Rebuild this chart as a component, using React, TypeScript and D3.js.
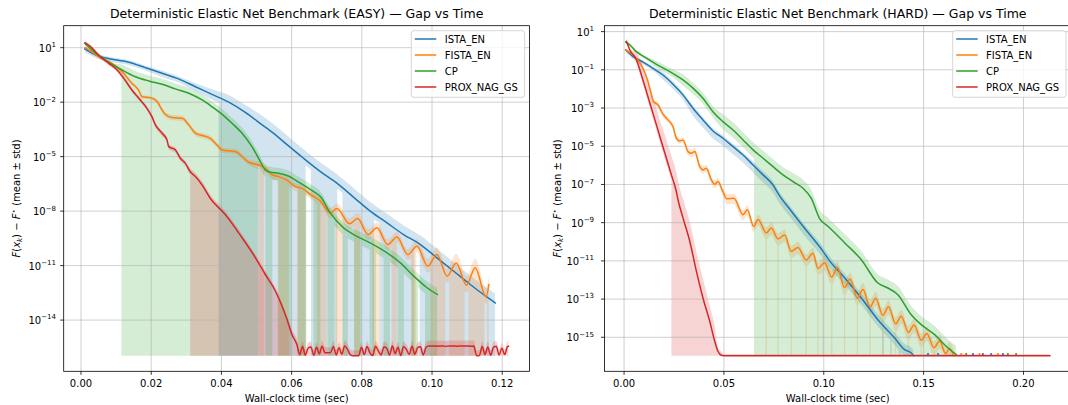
import React from "react";
import * as d3 from "d3";

const FONT = "'DejaVu Sans', Verdana, sans-serif";
const FLOOR_EXP = -15.96; // log10 of the floor value the bands are clipped to

const seriesNames = ["ISTA_EN", "FISTA_EN", "CP", "PROX_NAG_GS"];
const seriesColors = ["#1f77b4", "#ff7f0e", "#2ca02c", "#d62728"];

// ---------------- EASY (left) ----------------  values are log10(gap)
const easyIstaT = [0.00105, 0.0041, 0.0088, 0.0136, 0.0183, 0.0231, 0.0278, 0.0326, 0.0373, 0.0421, 0.0468, 0.0516, 0.0554, 0.0587, 0.0634, 0.0682, 0.0729, 0.0777, 0.0824, 0.0872, 0.0919, 0.0967, 0.1014, 0.1062, 0.1109, 0.1157, 0.118];
const easyIstaExp = [0.93, 0.6, 0.36, 0.2, -0.1, -0.41, -0.72, -1.15, -1.57, -2.0, -2.56, -3.25, -3.8, -4.34, -5.09, -5.82, -6.46, -7.24, -8.0, -8.65, -9.29, -9.84, -10.57, -11.31, -12.04, -12.74, -13.05];
const easyIstaBand = [[0, 0.12, 0.15], [0.02, 0.15, 0.2], [0.03, 0.2, 0.25], [0.036, 0.3, 0.3], [0.042, 0.4, 0.3], [0.048, 0.5, 0.3]];
const easyIstaFloor = [[0.0392, 0.064], [0.0655, 0.073], [0.0745, 0.0835], [0.085, 0.095], [0.0965, 0.118]];

const easyFistaT = [0.0012, 0.003, 0.005, 0.0088, 0.0117, 0.0145, 0.0164, 0.0174, 0.0197, 0.0217, 0.0231, 0.024, 0.0259, 0.0288, 0.0307, 0.0326, 0.0345, 0.0368, 0.0387, 0.0402, 0.0425, 0.044, 0.0464, 0.0478, 0.0506, 0.0525, 0.0544, 0.0563, 0.0587, 0.061, 0.063, 0.0655, 0.0682, 0.071, 0.0729, 0.0765, 0.0788, 0.0818, 0.0843, 0.0874, 0.09, 0.0931, 0.0957, 0.0988, 0.1014, 0.1043, 0.1069, 0.1098, 0.1123, 0.1154, 0.1162];
const easyFistaExp = [1.0, 0.78, 0.5, 0.14, -0.32, -0.96, -1.33, -1.7, -1.75, -1.97, -2.43, -2.67, -2.85, -2.89, -3.25, -3.71, -3.84, -3.99, -4.35, -4.63, -4.69, -4.72, -5.09, -5.31, -5.46, -5.64, -6.0, -6.1, -6.3, -6.65, -6.75, -7.1, -7.45, -8.1, -7.86, -8.7, -8.41, -9.29, -8.92, -9.84, -9.43, -10.39, -9.93, -11.03, -10.39, -11.58, -10.85, -12.08, -11.12, -12.72, -12.04];
const easyFistaBand = [[0, 0.1, 0.1], [0.02, 0.15, 0.15], [0.05, 0.2, 0.25], [0.07, 0.3, 0.3], [0.095, 0.4, 0.35], [0.105, 0.5, 0.4]];
const easyFistaFloor = [[0.0506, 0.0521], [0.056, 0.0592], [0.0615, 0.064], [0.0672, 0.07], [0.0725, 0.0745], [0.0778, 0.0795], [0.083, 0.085], [0.0885, 0.09], [0.094, 0.0955], [0.0995, 0.1038], [0.1049, 0.1093], [0.1104, 0.1149], [0.1157, 0.1162]];

const easyCpT = [0.00105, 0.0031, 0.006, 0.0088, 0.0117, 0.0155, 0.0193, 0.0231, 0.0269, 0.0307, 0.0345, 0.0373, 0.0402, 0.043, 0.0459, 0.0487, 0.0506, 0.0525, 0.0539, 0.0563, 0.0587, 0.0625, 0.0663, 0.0682, 0.071, 0.0748, 0.0777, 0.0824, 0.0872, 0.091, 0.0948, 0.0986, 0.1015];
const easyCpExp = [1.24, 0.87, 0.42, 0.09, -0.23, -0.6, -0.83, -1.01, -1.27, -1.51, -1.88, -2.25, -2.67, -3.16, -3.71, -4.45, -5.09, -5.73, -5.86, -5.91, -6.04, -6.46, -6.93, -7.2, -8.1, -8.92, -9.29, -9.75, -10.3, -10.85, -11.58, -12.22, -12.59];
const easyCpBand = [[0, 0.1, 0.1], [0.011, 0.3, 0.3], [0.05, 0.3, 0.4], [0.08, 0.35, 0.4]];
const easyCpFloor = [[0.0115, 0.0505], [0.0525, 0.0545], [0.0562, 0.06], [0.0618, 0.0642], [0.0662, 0.0682], [0.0702, 0.0722], [0.0745, 0.076], [0.0778, 0.08], [0.0822, 0.084], [0.0862, 0.088], [0.0902, 0.092], [0.0942, 0.096], [0.098, 0.1015]];

const easyProxT = [0.0012, 0.0027, 0.005, 0.0079, 0.0103, 0.0122, 0.0145, 0.0169, 0.0188, 0.0202, 0.0212, 0.0231, 0.0245, 0.025, 0.0269, 0.0283, 0.0297, 0.0311, 0.0326, 0.0345, 0.0368, 0.0411, 0.0459, 0.0497, 0.0525, 0.0554, 0.0587, 0.0601, 0.0615];
const easyProxExp = [1.27, 1.06, 0.6, 0.14, -0.23, -0.69, -1.33, -1.88, -2.34, -2.8, -3.25, -3.71, -4.08, -4.45, -4.63, -5.09, -5.36, -5.82, -6.1, -6.56, -7.29, -8.19, -9.47, -10.57, -11.49, -12.41, -13.97, -14.8, -15.35];
const easyProxTailT = [0.0623, 0.0631, 0.0639, 0.0647, 0.0655, 0.0663, 0.0671, 0.0679, 0.0687, 0.0695, 0.0703, 0.0711, 0.0719, 0.0727, 0.0735, 0.0743, 0.0751, 0.0759, 0.0767, 0.0775, 0.0783, 0.0791, 0.0799, 0.0807, 0.0815, 0.0823, 0.0831, 0.0839, 0.0847, 0.0855, 0.0863, 0.0871, 0.0879, 0.0887, 0.0895, 0.0903, 0.0911, 0.0919, 0.0927, 0.0935, 0.0943, 0.0951, 0.0959, 0.0967, 0.0975, 0.0983, 0.0991, 0.0999, 0.1007, 0.1015, 0.1023, 0.1031, 0.1039, 0.1047, 0.1055, 0.1063, 0.1071, 0.1079, 0.1087, 0.1095, 0.1103, 0.1111, 0.1119, 0.1127, 0.1135, 0.1143, 0.1151, 0.1159, 0.1167, 0.1175, 0.1183, 0.1191, 0.1199, 0.1207, 0.1215, 0.1218];
const easyProxTailExp = [-15.9, -15.45, -15.93, -15.55, -15.48, -15.94, -15.5, -15.85, -15.44, -15.8, -15.8, -15.78, -15.45, -15.92, -15.52, -15.88, -15.42, -15.6, -15.9, -15.96, -15.96, -15.96, -15.5, -15.9, -15.46, -15.8, -15.95, -15.44, -15.7, -15.92, -15.48, -15.55, -15.93, -15.43, -15.85, -15.5, -15.95, -15.46, -15.62, -15.9, -15.44, -15.88, -15.52, -15.47, -15.92, -15.5, -15.42, -15.43, -15.42, -15.44, -15.42, -15.42, -15.45, -15.42, -15.43, -15.42, -15.44, -15.42, -15.43, -15.42, -15.42, -15.44, -15.43, -15.96, -15.95, -15.45, -15.9, -15.48, -15.94, -15.5, -15.44, -15.92, -15.55, -15.9, -15.46, -15.44];
const easyProxBand = [[0, 0.12, 0.12], [0.02, 0.15, 0.15], [0.03, 0.2, 0.2], [0.06, 0.3, 0.2]];
const easyProxFloor = [[0.0311, 0.1218]];

// ---------------- HARD (right) ----------------
const hardIstaT = [0.00085, 0.0045, 0.0095, 0.0145, 0.0195, 0.0245, 0.0295, 0.0345, 0.0395, 0.0445, 0.0495, 0.0546, 0.0596, 0.0646, 0.0696, 0.0746, 0.0779, 0.0838, 0.0896, 0.0996, 0.1021, 0.1105, 0.1188, 0.1271, 0.1355, 0.1405, 0.1438, 0.145];
const hardIstaExp = [0.04, -0.31, -0.6, -0.92, -1.27, -1.75, -2.31, -3.01, -3.62, -4.2, -4.58, -5.02, -5.46, -5.98, -6.5, -7.03, -7.6, -8.4, -9.19, -10.5, -10.88, -11.9, -12.94, -14.08, -15.04, -15.65, -15.82, -15.96];
const hardIstaBand = [[0, 0.1, 0.12], [0.015, 0.15, 0.25], [0.03, 0.15, 0.4], [0.06, 0.2, 0.4], [0.09, 0.25, 0.35], [0.12, 0.3, 0.35]];
const hardIstaFloor = [[0.1293, 0.13], [0.1333, 0.134], [0.1375, 0.1383], [0.1408, 0.145]];
const hardIstaDotsT = [0.1522, 0.1572, 0.1747, 0.1797, 0.1838, 0.1897];

const hardFistaT = [0.00085, 0.0062, 0.0095, 0.012, 0.0137, 0.0145, 0.017, 0.0195, 0.022, 0.0245, 0.0262, 0.0279, 0.0295, 0.032, 0.0337, 0.0354, 0.0379, 0.0395, 0.0412, 0.0437, 0.0454, 0.047, 0.0495, 0.0515, 0.055, 0.0596, 0.0617, 0.0649, 0.0671, 0.0712, 0.0737, 0.0771, 0.0804, 0.0837, 0.0871, 0.0912, 0.0946, 0.0971, 0.1004, 0.104, 0.1068, 0.1104, 0.1132, 0.1168, 0.1196, 0.1232, 0.126, 0.1296, 0.1324, 0.136, 0.1388, 0.1424, 0.1452, 0.1488, 0.1516, 0.1552, 0.158, 0.161, 0.163, 0.165];
const hardFistaExp = [0.04, -0.39, -0.92, -1.62, -2.31, -2.63, -2.84, -3.32, -3.62, -3.97, -4.58, -4.72, -4.67, -5.28, -5.37, -5.28, -6.07, -6.24, -6.15, -6.76, -6.99, -6.85, -7.38, -7.75, -7.72, -8.58, -8.32, -9.2, -8.84, -9.54, -9.28, -9.85, -9.65, -10.5, -10.3, -10.95, -10.6, -11.4, -11.1, -11.85, -11.35, -12.4, -11.95, -12.95, -12.5, -13.4, -12.95, -13.85, -13.4, -14.3, -13.9, -14.75, -14.35, -15.15, -14.8, -15.55, -15.2, -15.85, -15.6, -15.96];
const hardFistaBand = [[0, 0.08, 0.08], [0.015, 0.15, 0.15], [0.03, 0.2, 0.2], [0.05, 0.25, 0.3], [0.07, 0.3, 0.35], [0.1, 0.35, 0.4]];
const hardFistaFloor = [[0.0709, 0.0715], [0.0768, 0.0774], [0.0834, 0.084], [0.0909, 0.0915], [0.0968, 0.0974], [0.0993, 0.0999], [0.1037, 0.1043], [0.1101, 0.1107], [0.1165, 0.1171], [0.1229, 0.1235], [0.1293, 0.1299], [0.1357, 0.1363], [0.1421, 0.1427], [0.1485, 0.1491], [0.1549, 0.1555], [0.1607, 0.165]];
const hardFistaDotsT = [0.1688, 0.178, 0.1872];

const hardCpT = [0.00085, 0.0029, 0.0062, 0.0112, 0.0162, 0.0229, 0.0295, 0.0345, 0.0395, 0.0445, 0.0495, 0.0546, 0.0596, 0.0646, 0.0696, 0.0746, 0.0796, 0.0846, 0.0896, 0.0937, 0.098, 0.1021, 0.1105, 0.1188, 0.1271, 0.1321, 0.1371, 0.1438, 0.1488, 0.1555, 0.1605, 0.1663];
const hardCpExp = [0.45, 0.3, -0.05, -0.39, -0.71, -1.09, -1.53, -1.96, -2.49, -3.19, -3.71, -4.15, -4.67, -5.19, -5.63, -6.07, -6.5, -6.85, -7.2, -7.72, -8.8, -9.19, -10.06, -10.94, -12.16, -12.42, -12.77, -13.82, -14.34, -14.86, -15.39, -15.91];
const hardCpBand = [[0, 0.1, 0.1], [0.015, 0.2, 0.2], [0.025, 0.3, 0.3], [0.045, 0.4, 0.4], [0.08, 0.45, 0.45]];
const hardCpFloor = [[0.0651, 0.1663]];
const hardCpDotsT = [0.1713, 0.1922, 0.1963];

const hardProxT = [0.0012, 0.0029, 0.0062, 0.0087, 0.0112, 0.0137, 0.0162, 0.0187, 0.0212, 0.0237, 0.0262, 0.027, 0.0295, 0.0329, 0.0362, 0.0395, 0.0429, 0.0454, 0.047, 0.0487, 0.05, 0.2132];
const hardProxExp = [0.48, 0.04, -0.48, -1.27, -2.14, -3.01, -3.88, -4.76, -5.63, -6.5, -7.38, -7.8, -8.75, -9.97, -11.54, -12.94, -14.16, -15.21, -15.73, -15.94, -15.96, -15.96];
const hardProxBand = [[0, 0.08, 0.08], [0.004, 0.4, 0.15], [0.008, 0.7, 0.25], [0.012, 0.9, 0.3], [0.02, 1.0, 0.3], [0.04, 0.8, 0.3], [0.047, 0.2, 0.1], [0.05, 0.08, 0.05]];
const hardProxFloor = [[0.0237, 0.05]];

// ticks
const easyXTicks = [0, 0.02, 0.04, 0.06, 0.08, 0.1, 0.12];
const hardXTicks = [0, 0.05, 0.1, 0.15, 0.2];
const easyYTickExps = [1, -2, -5, -8, -11, -14];
const hardYTickExps = [1, -1, -3, -5, -7, -9, -11, -13, -15];

type Series = { name: string; color: string; t: number[]; exp: number[]; band: number[][]; floor: number[][]; dots?: number[] };

const easySeries: Series[] = [
  { name: seriesNames[0], color: seriesColors[0], t: easyIstaT, exp: easyIstaExp, band: easyIstaBand, floor: easyIstaFloor },
  { name: seriesNames[1], color: seriesColors[1], t: easyFistaT, exp: easyFistaExp, band: easyFistaBand, floor: easyFistaFloor },
  { name: seriesNames[2], color: seriesColors[2], t: easyCpT, exp: easyCpExp, band: easyCpBand, floor: easyCpFloor },
  { name: seriesNames[3], color: seriesColors[3], t: easyProxT.concat(easyProxTailT), exp: easyProxExp.concat(easyProxTailExp), band: easyProxBand, floor: easyProxFloor },
];
const hardSeries: Series[] = [
  { name: seriesNames[0], color: seriesColors[0], t: hardIstaT, exp: hardIstaExp, band: hardIstaBand, floor: hardIstaFloor, dots: hardIstaDotsT },
  { name: seriesNames[1], color: seriesColors[1], t: hardFistaT, exp: hardFistaExp, band: hardFistaBand, floor: hardFistaFloor, dots: hardFistaDotsT },
  { name: seriesNames[2], color: seriesColors[2], t: hardCpT, exp: hardCpExp, band: hardCpBand, floor: hardCpFloor, dots: hardCpDotsT },
  { name: seriesNames[3], color: seriesColors[3], t: hardProxT, exp: hardProxExp, band: hardProxBand, floor: hardProxFloor },
];

type Cfg = {
  id: string; title: string; left: number; right: number; top: number; bottom: number;
  xDomain: number[]; expDomain: number[]; xTicks: number[]; yTickExps: number[];
  yLabelX: number; yTickEnd: number;
};

const easyCfg: Cfg = {
  id: "easy", title: "Deterministic Elastic Net Benchmark (EASY) \u2014 Gap vs Time",
  left: 63.7, right: 529.6, top: 25.7, bottom: 371.3,
  xDomain: [-0.00493, 0.1278], expDomain: [-16.82, 2.21],
  xTicks: easyXTicks, yTickExps: easyYTickExps, yLabelX: 16, yTickEnd: 56,
};
const hardCfg: Cfg = {
  id: "hard", title: "Deterministic Elastic Net Benchmark (HARD) \u2014 Gap vs Time",
  left: 604.5, right: 1071, top: 25.7, bottom: 371.3,
  xDomain: [-0.0098, 0.2238], expDomain: [-16.78, 1.31],
  xTicks: hardXTicks, yTickExps: hardYTickExps, yLabelX: 557.5, yTickEnd: 594,
};

function bandAt(band: number[][], t: number) {
  let b = band[0];
  for (const s of band) if (t >= s[0]) b = s;
  return b;
}

function expLabel(e: number) {
  return e < 0 ? "\u2212" + Math.abs(e) : String(e);
}

function Panel({ cfg, series }: { cfg: Cfg; series: Series[] }) {
  const x = d3.scaleLinear().domain(cfg.xDomain).range([cfg.left, cfg.right]);
  const y = d3.scaleLog().domain([Math.pow(10, cfg.expDomain[0]), Math.pow(10, cfg.expDomain[1])]).range([cfg.bottom, cfg.top]);
  const floorV = Math.pow(10, FLOOR_EXP);
  const yFloor = y(floorV);

  const built = series.map((s) => {
    const pts = s.t.map((t, i) => {
      const b = bandAt(s.band, t);
      const e = s.exp[i];
      return { t, v: Math.pow(10, e), up: Math.pow(10, e + b[1]), dn: Math.max(Math.pow(10, e - b[2]), floorV) };
    });
    const line = d3.line<any>().x((d) => x(d.t)).y((d) => y(d.v)).curve(d3.curveMonotoneX)(pts) || "";
    const full = d3.area<any>().x((d) => x(d.t)).y0(yFloor).y1((d) => y(d.up)).curve(d3.curveMonotoneX)(pts) || "";
    const narrow = d3.area<any>().x((d) => x(d.t)).y0((d) => y(d.dn)).y1((d) => y(d.up)).curve(d3.curveMonotoneX)(pts) || "";
    return { s, line, full, narrow };
  });

  const axClip = `ax-${cfg.id}`;
  const cx = (cfg.left + cfg.right) / 2;
  const cy = (cfg.top + cfg.bottom) / 2;
  const legX = cfg.right - 5 - 113.3;
  const legY = cfg.top + 5;

  return (
    <g>
      <defs>
        <clipPath id={axClip}>
          <rect x={cfg.left} y={cfg.top} width={cfg.right - cfg.left} height={cfg.bottom - cfg.top} />
        </clipPath>
        {built.map((b, i) => (
          <clipPath id={`band-${cfg.id}-${i}`} key={i}>
            <path d={b.narrow} />
            {b.s.floor.map((f, j) => (
              <rect key={j} x={x(f[0])} width={Math.max(0.5, x(f[1]) - x(f[0]))} y={cfg.top - 50} height={cfg.bottom - cfg.top + 100} />
            ))}
          </clipPath>
        ))}
      </defs>
      <g clipPath={`url(#${axClip})`}>
        {built.map((b, i) => (
          <path key={i} d={b.full} fill={b.s.color} fillOpacity={0.2} stroke="none" clipPath={`url(#band-${cfg.id}-${i})`} />
        ))}
        {cfg.xTicks.map((v) => (
          <line key={"gx" + v} x1={x(v)} x2={x(v)} y1={cfg.top} y2={cfg.bottom} stroke="#b0b0b0" strokeWidth={0.8} strokeOpacity={0.75} />
        ))}
        {cfg.yTickExps.map((e) => (
          <line key={"gy" + e} x1={cfg.left} x2={cfg.right} y1={y(Math.pow(10, e))} y2={y(Math.pow(10, e))} stroke="#b0b0b0" strokeWidth={0.8} strokeOpacity={0.75} />
        ))}
        {built.map((b, i) => (
          <path key={"l" + i} d={b.line} fill="none" stroke={b.s.color} strokeWidth={1.5} strokeLinejoin="round" strokeLinecap="square" />
        ))}
        {built.map((b, i) =>
          (b.s.dots || []).map((t, j) => (
            <circle key={`d${i}-${j}`} cx={x(t)} cy={y(Math.pow(10, -15.88))} r={1.1} fill={b.s.color} />
          ))
        )}
      </g>
      <rect x={cfg.left} y={cfg.top} width={cfg.right - cfg.left} height={cfg.bottom - cfg.top} fill="none" stroke="#000" strokeWidth={0.8} />
      {cfg.xTicks.map((v) => (
        <g key={"xt" + v}>
          <line x1={x(v)} x2={x(v)} y1={cfg.bottom} y2={cfg.bottom + 3.5} stroke="#000" strokeWidth={0.8} />
          <text x={x(v)} y={cfg.bottom + 15.5} textAnchor="middle" fontSize={10} fontFamily={FONT} fill="#000">
            {v.toFixed(2)}
          </text>
        </g>
      ))}
      {cfg.yTickExps.map((e) => {
        const yy = y(Math.pow(10, e));
        return (
          <g key={"yt" + e}>
            <line x1={cfg.left - 3.5} x2={cfg.left} y1={yy} y2={yy} stroke="#000" strokeWidth={0.8} />
            <text x={cfg.yTickEnd} y={yy + 4} textAnchor="end" fontSize={10} fontFamily={FONT} fill="#000">
              10<tspan dy={-4.6} fontSize={7}>{expLabel(e)}</tspan>
            </text>
          </g>
        );
      })}
      <text x={cx} y={18} textAnchor="middle" fontSize={12.5} fontFamily={FONT} fill="#000">
        {cfg.title}
      </text>
      <text x={cx} y={401.5} textAnchor="middle" fontSize={10} fontFamily={FONT} fill="#000">
        Wall-clock time (sec)
      </text>
      <text transform={`translate(${cfg.yLabelX},${cy}) rotate(-90)`} y={3.5} textAnchor="middle" fontSize={10} fontFamily={FONT} fill="#000">
        <tspan fontStyle="italic">F</tspan><tspan>(</tspan><tspan fontStyle="italic">x</tspan><tspan fontSize={7} dy={2} fontStyle="italic">k</tspan><tspan dy={-2}>) {"\u2212"} </tspan><tspan fontStyle="italic">F</tspan><tspan fontSize={7} dy={-4}>{"\u22c6"}</tspan><tspan dy={4}> (mean {"\u00b1"} std)</tspan>
      </text>
      <g>
        <rect x={legX} y={legY} width={113.3} height={66.6} rx={2.5} fill="#fff" fillOpacity={0.8} stroke="#cccccc" strokeWidth={0.8} />
        {series.map((s, i) => {
          const ly = legY + 8.3 + i * 16;
          return (
            <g key={"lg" + i}>
              <line x1={legX + 3.5} x2={legX + 25} y1={ly} y2={ly} stroke={s.color} strokeWidth={1.5} />
              <text x={legX + 33.4} y={ly + 3.6} fontSize={10} fontFamily={FONT} fill="#000">
                {s.name}
              </text>
            </g>
          );
        })}
      </g>
    </g>
  );
}

export default function App() {
  return (
    <svg width={1068} height={405} viewBox="0 0 1068 405" style={{ position: "absolute", left: 0, top: 0, display: "block", background: "#fff" }}>
      <rect x={0} y={0} width={1068} height={405} fill="#fff" />
      <Panel cfg={easyCfg} series={easySeries} />
      <Panel cfg={hardCfg} series={hardSeries} />
    </svg>
  );
}
